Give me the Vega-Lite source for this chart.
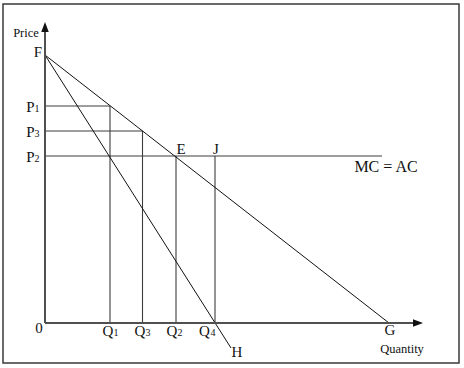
{
  "$schema": "https://vega.github.io/schema/vega-lite/v6.json",
  "width": 464,
  "height": 368,
  "padding": 0,
  "autosize": "none",
  "background": "white",
  "config": {"view": {"stroke": null}},
  "datasets": {
    "frame": [{"x": -42, "y": 319, "x2": 414, "y2": -40}],
    "axes": [
      {"x": 0, "y": 0, "x2": 374, "y2": 0},
      {"x": 0, "y": 0, "x2": 0, "y2": 296}
    ],
    "curves": [
      {"name": "demand", "x": 0, "y": 268, "x2": 344, "y2": 0},
      {"name": "mr", "x": 0, "y": 268, "x2": 186, "y2": -25}
    ],
    "guides": [
      {"name": "MC = AC", "x": 0, "y": 167, "x2": 337, "y2": 167},
      {"name": "P1", "x": 0, "y": 217, "x2": 65, "y2": 217},
      {"name": "P3", "x": 0, "y": 192, "x2": 97.5, "y2": 192},
      {"name": "Q1", "x": 65, "y": 217, "x2": 65, "y2": 0},
      {"name": "Q3", "x": 97.5, "y": 192, "x2": 97.5, "y2": 0},
      {"name": "Q2", "x": 131, "y": 167, "x2": 131, "y2": 0},
      {"name": "Q4", "x": 170, "y": 167, "x2": 170, "y2": 0}
    ],
    "arrows": [
      {"dir": "up", "x": 0, "y": 296},
      {"dir": "right", "x": 373, "y": 0}
    ],
    "letters": [
      {"text": "F", "x": -7, "y": 266},
      {"text": "P", "x": -14.5, "y": 211},
      {"text": "P", "x": -14.5, "y": 186},
      {"text": "P", "x": -14.5, "y": 161},
      {"text": "Q", "x": 63, "y": -13},
      {"text": "Q", "x": 95, "y": -13},
      {"text": "Q", "x": 127, "y": -13},
      {"text": "Q", "x": 159.5, "y": -13},
      {"text": "E", "x": 136, "y": 169},
      {"text": "J", "x": 171, "y": 169},
      {"text": "G", "x": 345, "y": -12},
      {"text": "H", "x": 192, "y": -34},
      {"text": "0", "x": -6, "y": -10}
    ],
    "subs": [
      {"text": "1", "x": -8, "y": 211},
      {"text": "3", "x": -8, "y": 186},
      {"text": "2", "x": -8, "y": 161},
      {"text": "1", "x": 71, "y": -13},
      {"text": "3", "x": 103, "y": -13},
      {"text": "2", "x": 135, "y": -13},
      {"text": "4", "x": 168, "y": -13}
    ],
    "curveLabels": [
      {"text": "MC = AC", "x": 341, "y": 151}
    ],
    "axisTitles": [
      {"text": "Price", "x": -19, "y": 286},
      {"text": "Quantity", "x": 357, "y": -30}
    ]
  },
  "encoding": {
    "x": {"field": "x", "type": "quantitative", "scale": {"domain": [-45, 419], "nice": false, "zero": false}, "axis": null},
    "y": {"field": "y", "type": "quantitative", "scale": {"domain": [-45, 323], "nice": false, "zero": false}, "axis": null}
  },
  "layer": [
    {
      "data": {"name": "frame"},
      "mark": {"type": "rect", "fill": null, "fillOpacity": 0, "stroke": "#3a3a3a", "strokeWidth": 1.5},
      "encoding": {
        "x2": {"field": "x2"},
        "y2": {"field": "y2"}
      }
    },
    {
      "data": {"name": "guides"},
      "mark": {"type": "rule", "stroke": "#3c3c3c", "strokeWidth": 1.1},
      "encoding": {
        "x2": {"field": "x2"},
        "y2": {"field": "y2"}
      }
    },
    {
      "data": {"name": "curves"},
      "mark": {"type": "rule", "stroke": "#111111", "strokeWidth": 1},
      "encoding": {
        "x2": {"field": "x2"},
        "y2": {"field": "y2"}
      }
    },
    {
      "data": {"name": "axes"},
      "mark": {"type": "rule", "stroke": "#505050", "strokeWidth": 2},
      "encoding": {
        "x2": {"field": "x2"},
        "y2": {"field": "y2"}
      }
    },
    {
      "data": {"name": "arrows"},
      "transform": [{"filter": "datum.dir === 'up'"}],
      "mark": {"type": "point", "shape": "M0,-1L-0.75,1L0.75,1Z", "size": 100, "filled": true, "fill": "#111111", "opacity": 1, "strokeWidth": 0}
    },
    {
      "data": {"name": "arrows"},
      "transform": [{"filter": "datum.dir === 'right'"}],
      "mark": {"type": "point", "shape": "M1,0L-1,-0.75L-1,0.75Z", "size": 100, "filled": true, "fill": "#111111", "opacity": 1, "strokeWidth": 0}
    },
    {
      "data": {"name": "letters"},
      "mark": {"type": "text", "font": "Liberation Serif", "fontSize": 15, "align": "center", "baseline": "alphabetic", "color": "#111111"},
      "encoding": {"text": {"field": "text"}}
    },
    {
      "data": {"name": "subs"},
      "mark": {"type": "text", "font": "Liberation Serif", "fontSize": 10, "align": "center", "baseline": "alphabetic", "color": "#111111"},
      "encoding": {"text": {"field": "text"}}
    },
    {
      "data": {"name": "curveLabels"},
      "mark": {"type": "text", "font": "Liberation Serif", "fontSize": 16, "align": "center", "baseline": "alphabetic", "color": "#111111"},
      "encoding": {"text": {"field": "text"}}
    },
    {
      "data": {"name": "axisTitles"},
      "mark": {"type": "text", "font": "Liberation Serif", "fontSize": 12.5, "align": "center", "baseline": "alphabetic", "color": "#111111"},
      "encoding": {"text": {"field": "text"}}
    }
  ]
}
